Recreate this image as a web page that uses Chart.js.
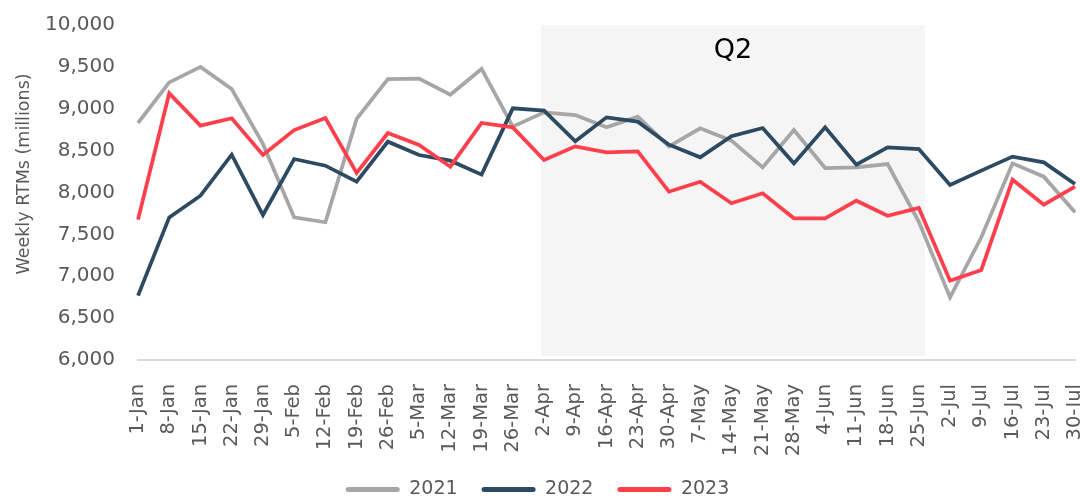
<!DOCTYPE html>
<html>
<head>
<meta charset="utf-8">
<script src="https://cdn.jsdelivr.net/npm/chart.js@4.4.1/dist/chart.umd.min.js"></script>
<style>
  html, body { margin: 0; padding: 0; background: #ffffff; }
  #wrap { width: 1080px; height: 497px; }
</style>
</head>
<body>
<div id="wrap"><canvas id="c" width="1080" height="497"></canvas></div>
<script>
const categories = ['1-Jan','8-Jan','15-Jan','22-Jan','29-Jan','5-Feb','12-Feb','19-Feb','26-Feb','5-Mar','12-Mar','19-Mar','26-Mar','2-Apr','9-Apr','16-Apr','23-Apr','30-Apr','7-May','14-May','21-May','28-May','4-Jun','11-Jun','18-Jun','25-Jun','2-Jul','9-Jul','16-Jul','23-Jul','30-Jul'];
const series2021 = [8830, 9315, 9500, 9236, 8580, 7703, 7645, 8878, 9355, 9360, 9168, 9475, 8786, 8957, 8925, 8778, 8905, 8551, 8766, 8619, 8300, 8746, 8292, 8300, 8340, 7650, 6748, 7465, 8348, 8189, 7763];
const series2022 = [6768, 7703, 7962, 8452, 7731, 8400, 8320, 8129, 8607, 8448, 8380, 8213, 9005, 8977, 8611, 8897, 8846, 8571, 8420, 8671, 8770, 8348, 8778, 8332, 8539, 8519, 8090, 8261, 8428, 8360, 8101];
const series2023 = [7676, 9184, 8798, 8886, 8448, 8746, 8889, 8233, 8710, 8567, 8308, 8830, 8778, 8388, 8551, 8480, 8491, 8010, 8129, 7871, 7990, 7692, 7692, 7902, 7723, 7815, 6947, 7075, 8153, 7855, 8070];
const seriesNames = ['2021', '2022', '2023'];
const yTicks = [6000, 6500, 7000, 7500, 8000, 8500, 9000, 9500, 10000];
const q2Range = ['2-Apr', '25-Jun'];
const q2Label = 'Q2';
const yTitle = 'Weekly RTMs (millions)';

const FONT = '"DejaVu Sans", sans-serif';
const TXT = '#595959';

const q2Plugin = {
  id: 'q2',
  beforeDatasetsDraw(chart) {
    const {ctx, scales: {x, y}} = chart;
    const x1 = x.getPixelForValue(categories.indexOf(q2Range[0])) - 3;
    const x2 = x.getPixelForValue(categories.indexOf(q2Range[1])) + 6;
    const top = y.getPixelForValue(yTicks[yTicks.length - 1]);
    const bottom = y.getPixelForValue(yTicks[0]) - 4;
    ctx.save();
    ctx.fillStyle = '#f5f5f5';
    ctx.fillRect(x1, top, x2 - x1, bottom - top);
    ctx.fillStyle = '#000000';
    ctx.font = '27px ' + FONT;
    ctx.textAlign = 'center';
    ctx.textBaseline = 'middle';
    ctx.fillText(q2Label, (x1 + x2) / 2, top + 26);
    ctx.restore();
  },
  afterDraw(chart) {
    const {ctx} = chart;
    ctx.save();
    ctx.translate(24, 174);
    ctx.rotate(-Math.PI / 2);
    ctx.fillStyle = TXT;
    ctx.font = '17.5px ' + FONT;
    ctx.textAlign = 'center';
    ctx.textBaseline = 'middle';
    ctx.fillText(yTitle, 0, 0);
    ctx.restore();
  }
};

const colors = ['#a6a6a6', '#2c4a62', '#ff3f4b'];
const data = [series2021, series2022, series2023];

new Chart(document.getElementById('c'), {
  type: 'line',
  data: {
    labels: categories,
    datasets: seriesNames.map((n, i) => ({
      label: n,
      data: data[i],
      borderColor: colors[i],
      backgroundColor: colors[i],
      borderWidth: 3.75,
      pointRadius: 0,
      tension: 0,
      order: 3 - i
    }))
  },
  options: {
    responsive: false,
    animation: false,
    devicePixelRatio: 1,
    layout: { padding: { top: 25, right: 5, bottom: -12, left: 0 } },
    plugins: {
      tooltip: { enabled: false },
      legend: {
        position: 'bottom',
        labels: {
          font: { family: FONT, size: 19 },
          color: TXT,
          boxWidth: 54,
          boxHeight: 5,
          padding: 24,
          useBorderRadius: true,
          borderRadius: 2.5,
          sort: (a, b) => a.datasetIndex - b.datasetIndex,
          generateLabels(chart) {
            const items = Chart.defaults.plugins.legend.labels.generateLabels(chart);
            items.forEach(it => { it.lineWidth = 0; it.fillStyle = colors[it.datasetIndex]; });
            return items;
          }
        }
      }
    },
    scales: {
      x: {
        offset: false,
        grid: { display: false },
        border: { display: true, color: '#d9d9d9', width: 2 },
        ticks: {
          autoSkip: false,
          maxRotation: 90,
          minRotation: 90,
          padding: 16,
          color: TXT,
          font: { family: FONT, size: 19.5 }
        },
        afterFit(s) { s.height = 96; s.paddingLeft = 0; s.paddingRight = 0; }
      },
      y: {
        min: 6000,
        max: 10000,
        grid: { display: false },
        border: { display: false },
        afterBuildTicks(s) { s.ticks = yTicks.map(v => ({ value: v })); },
        ticks: {
          padding: 15,
          color: TXT,
          font: { family: FONT, size: 20 },
          callback: v => v.toLocaleString('en-US')
        },
        afterFit(s) { s.width = 138; s.paddingTop = 0; s.paddingBottom = 0; }
      }
    }
  },
  plugins: [q2Plugin]
});
</script>
</body>
</html>
